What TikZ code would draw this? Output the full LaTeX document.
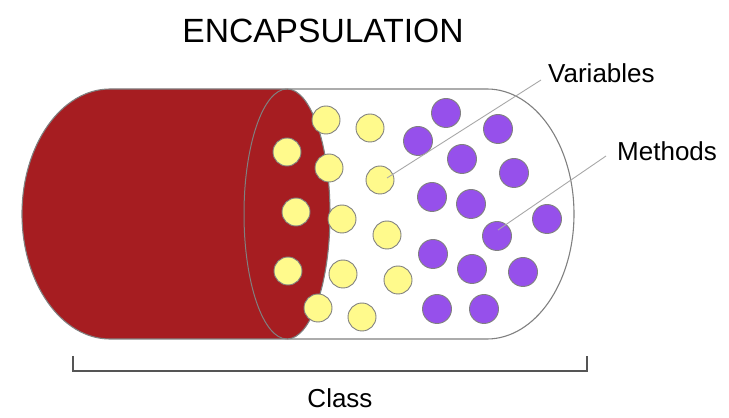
\documentclass[tikz,border=0pt]{standalone}
\usepackage{fontspec}
\setmainfont{Liberation Sans}
\definecolor{capred}{HTML}{A61D21}
\definecolor{varyel}{HTML}{FFFA8C}
\definecolor{methpur}{HTML}{9650EB}
\definecolor{outl}{HTML}{808080}
\definecolor{lead}{HTML}{A8A8A8}
\definecolor{brk}{HTML}{555555}
\tikzset{
  var/.style={circle, draw=outl, line width=0.9pt, fill=varyel, minimum size=28pt, inner sep=0pt},
  meth/.style={circle, draw=outl, line width=0.9pt, fill=methpur, minimum size=29pt, inner sep=0pt},
  leader/.style={draw=lead, line width=0.9pt},
  lbl/.style={inner sep=0pt, font=\fontsize{26}{30}\selectfont},
  shell/.style={draw=outl, line width=1.1pt}
}
\begin{document}
\begin{tikzpicture}[x=1pt,y=1pt]
\useasboundingbox (0,0) rectangle (729,418);
% right transparent shell outline
\draw[shell] (287,329) -- (487,329) arc[start angle=90, end angle=-90, x radius=87pt, y radius=125pt] -- (287,79);
% red body
\filldraw[fill=capred, draw=outl, line width=1.1pt] (110,329) -- (287,329)
  arc[start angle=90, end angle=-90, x radius=43pt, y radius=125pt]
  -- (110,79) arc[start angle=270, end angle=90, x radius=88pt, y radius=125pt] -- cycle;
\draw[draw=outl, line width=1pt] (287,329) arc[start angle=90, end angle=270, x radius=43pt, y radius=125pt];
% variables
\node[var] (v1) at (326,298) {};
\node[var] (v2) at (370,290) {};
\node[var] (v3) at (287,266) {};
\node[var] (v4) at (329,250) {};
\node[var] (v5) at (380,238) {};
\node[var] (v6) at (296,206) {};
\node[var] (v7) at (342,199) {};
\node[var] (v8) at (387,183) {};
\node[var] (v9) at (288,147) {};
\node[var] (v10) at (343,144) {};
\node[var] (v11) at (398,138) {};
\node[var] (v12) at (318,110) {};
\node[var] (v13) at (362,101) {};
% methods
\node[meth] (m1) at (446,305) {};
\node[meth] (m2) at (418,277) {};
\node[meth] (m3) at (498,289) {};
\node[meth] (m4) at (462,259) {};
\node[meth] (m5) at (514,245) {};
\node[meth] (m6) at (432,221) {};
\node[meth] (m7) at (471,214) {};
\node[meth] (m8) at (547,199) {};
\node[meth] (m9) at (497,182) {};
\node[meth] (m10) at (433,164) {};
\node[meth] (m11) at (472,149) {};
\node[meth] (m12) at (523,146) {};
\node[meth] (m13) at (437,109) {};
\node[meth] (m14) at (484,109) {};
% labels
\node[inner sep=0pt, anchor=base, font=\fontsize{33.6}{40}\selectfont] (title) at (323,375) {ENCAPSULATION};
\node[lbl, anchor=base west] (vlab) at (548,335) {Variables};
\node[lbl, anchor=base west] (mlab) at (617,257) {Methods};
\node[lbl, anchor=base] (clab) at (340,10) {Class};
% leaders
\coordinate (vend) at (541,338);
\coordinate (mend) at (606,262);
\draw[leader] ([shift={(7pt,2pt)}]v5.center) -- (vend);
\draw[leader] ([shift={(1pt,6pt)}]m9.center) -- (mend);
% bracket
\coordinate (b1) at (73,62);
\coordinate (b2) at (73,47);
\coordinate (b3) at (587,47);
\coordinate (b4) at (587,62);
\draw[draw=brk, line width=2pt] (b1) -- (b2) -- (b3) -- (b4);
\end{tikzpicture}
\end{document}
